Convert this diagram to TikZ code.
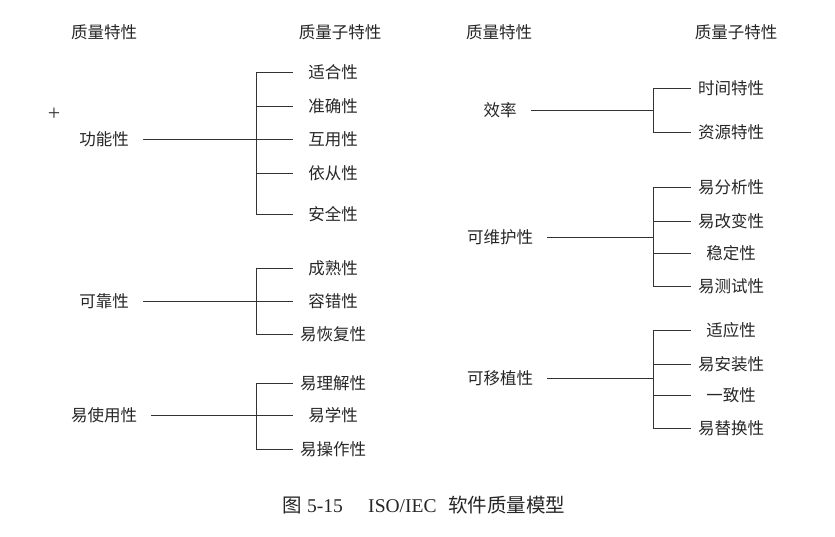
\documentclass[tikz,border=0pt]{standalone}
\usepackage{fontspec}
\setmainfont{Liberation Serif}
\newfontfamily\cjk{Noto Sans CJK SC}
\usepackage{tikz}
\usetikzlibrary{calc,positioning}

\tikzset{
    lbl/.style={font=\cjk\fontsize{16.5}{18}\selectfont, text=black!85, inner sep=0pt},
    parent/.style={lbl, inner xsep=14pt},
    child/.style={lbl, minimum width=80pt},
    head/.style={lbl},
    link/.style={draw=black!80, line width=0.8pt}
}

\begin{document}
\begin{tikzpicture}[x=1pt,y=-1pt]
        \useasboundingbox (0,0) rectangle (835,536);

        \node[head] (h1) at (104,32) {质量特性};
        \node[head] (h2) at (340,32) {质量子特性};
        \node[head] (h3) at (499,32) {质量特性};
        \node[head] (h4) at (736,32) {质量子特性};
        \node[font=\fontsize{22}{24}\selectfont, text=black!80, inner sep=0pt] (plus) at (54,114) {+};

        % left side
        \node[parent] (gn) at (104,139) {功能性};
        \coordinate (gnj) at (256,139);
        \foreach \y/\t [count=\i] in {72/适合性,106/准确性,139/互用性,173/依从性,214/安全性}
            \node[child] (gn\i) at (333,\y) {\t};
        \draw[link] (gn.east) -- (gnj) (gnj |- gn1) -- (gnj |- gn5);
        \foreach \i in {1,...,5} \draw[link] (gnj |- gn\i) -- (gn\i.west);

        \node[parent] (kk) at (104,301) {可靠性};
        \coordinate (kkj) at (256,301);
        \foreach \y/\t [count=\i] in {268/成熟性,301/容错性,334/易恢复性}
            \node[child] (kk\i) at (333,\y) {\t};
        \draw[link] (kk.east) -- (kkj) (kkj |- kk1) -- (kkj |- kk3);
        \foreach \i in {1,...,3} \draw[link] (kkj |- kk\i) -- (kk\i.west);

        \node[parent] (ysy) at (104,415) {易使用性};
        \coordinate (ysyj) at (256,415);
        \foreach \y/\t [count=\i] in {383/易理解性,415/易学性,449/易操作性}
            \node[child] (ysy\i) at (333,\y) {\t};
        \draw[link] (ysy.east) -- (ysyj) (ysyj |- ysy1) -- (ysyj |- ysy3);
        \foreach \i in {1,...,3} \draw[link] (ysyj |- ysy\i) -- (ysy\i.west);

        % right side
        \node[parent] (xl) at (500,110) {效率};
        \coordinate (xlj) at (653,110);
        \foreach \y/\t [count=\i] in {88/时间特性,132/资源特性}
            \node[child] (xl\i) at (731,\y) {\t};
        \draw[link] (xl.east) -- (xlj) (xlj |- xl1) -- (xlj |- xl2);
        \foreach \i in {1,2} \draw[link] (xlj |- xl\i) -- (xl\i.west);

        \node[parent] (kwh) at (500,237) {可维护性};
        \coordinate (kwhj) at (653,237);
        \foreach \y/\t [count=\i] in {187/易分析性,221/易改变性,253/稳定性,286/易测试性}
            \node[child] (kwh\i) at (731,\y) {\t};
        \draw[link] (kwh.east) -- (kwhj) (kwhj |- kwh1) -- (kwhj |- kwh4);
        \foreach \i in {1,...,4} \draw[link] (kwhj |- kwh\i) -- (kwh\i.west);

        \node[parent] (kyz) at (500,378) {可移植性};
        \coordinate (kyzj) at (653,378);
        \foreach \y/\t [count=\i] in {330/适应性,364/易安装性,395/一致性,428/易替换性}
            \node[child] (kyz\i) at (731,\y) {\t};
        \draw[link] (kyz.east) -- (kyzj) (kyzj |- kyz1) -- (kyzj |- kyz4);
        \foreach \i in {1,...,4} \draw[link] (kyzj |- kyz\i) -- (kyz\i.west);

        \node[font=\fontsize{19.5}{21}\selectfont, text=black!85] (cap) at (424,505)
            {{\cjk 图} 5-15\hspace{1.3em}ISO/IEC\hspace{0.6em}{\cjk 软件质量模型}};
    \end{tikzpicture}
\end{document}
